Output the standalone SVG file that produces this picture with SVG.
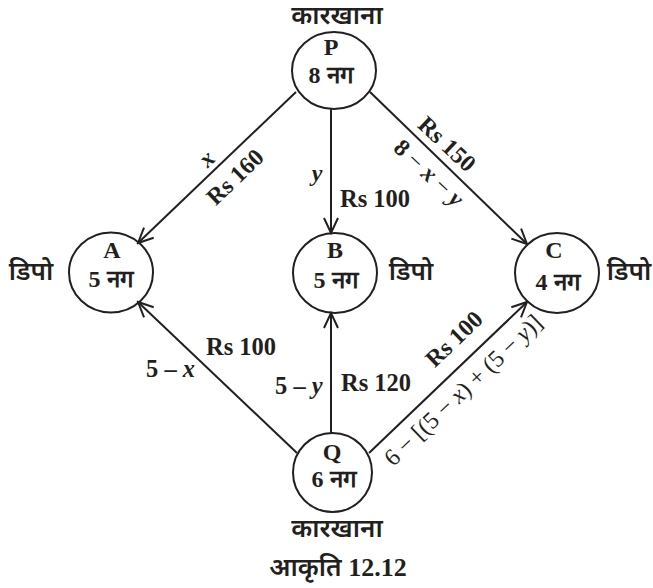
<svg xmlns="http://www.w3.org/2000/svg" width="653" height="588" viewBox="0 0 653 588">
<style>
.n{fill:none;stroke:#231f20;stroke-width:2}
.e{fill:none;stroke:#231f20;stroke-width:2}
.t{font-family:'Liberation Serif',serif;font-weight:bold;font-size:24px;fill:#231f20;text-anchor:middle}
.s{font-family:'Liberation Serif',serif;font-weight:bold;font-size:24.5px;fill:#231f20}
.d{font-family:'Liberation Serif','Noto Sans',serif;font-size:26px;font-weight:600;fill:#231f20;text-anchor:middle}
.i{font-style:italic}
.m{font-weight:normal}
</style>
<defs>
<marker id="ar" markerUnits="userSpaceOnUse" viewBox="-17 -9 19 18" refX="0" refY="0" markerWidth="19" markerHeight="18" orient="auto">
<path d="M-15,-7 L0,0 L-15,7" fill="none" stroke="#231f20" stroke-width="2"/>
</marker>
</defs>
<rect width="653" height="588" fill="#fff"/>
<g id="connectors">
<line class="e" x1="296" y1="92" x2="138" y2="243" marker-end="url(#ar)"/>
<line class="e" x1="331" y1="109" x2="331" y2="233" marker-end="url(#ar)"/>
<line class="e" x1="370" y1="92" x2="527" y2="244" marker-end="url(#ar)"/>
<line class="e" x1="297" y1="453" x2="138" y2="302" marker-end="url(#ar)"/>
<line class="e" x1="331" y1="433" x2="331" y2="313" marker-end="url(#ar)"/>
<line class="e" x1="369" y1="453" x2="527" y2="302" marker-end="url(#ar)"/>
</g>
<g id="P">
<ellipse class="n" cx="334" cy="70.5" rx="42" ry="38.5"/>
<text class="d" x="337" y="24">कारखाना</text>
<text class="t" x="331" y="55">P</text>
<text class="t" x="331" y="83">8 नग</text>
</g>
<g id="A">
<ellipse class="n" cx="111" cy="272.5" rx="42" ry="40"/>
<text class="t" x="112" y="258">A</text>
<text class="t" x="111" y="287">5 नग</text>
<text class="d" x="31" y="280">डिपो</text>
</g>
<g id="B">
<ellipse class="n" cx="335" cy="273" rx="42" ry="40"/>
<text class="t" x="335" y="258">B</text>
<text class="t" x="336" y="288">5 नग</text>
<text class="d" x="411" y="280">डिपो</text>
</g>
<g id="C">
<ellipse class="n" cx="557" cy="273" rx="42" ry="40"/>
<text class="t" x="554" y="258">C</text>
<text class="t" x="558" y="290">4 नग</text>
<text class="d" x="629" y="280">डिपो</text>
</g>
<g id="Q">
<ellipse class="n" cx="332.5" cy="472.5" rx="39.5" ry="39.5"/>
<text class="t" x="332" y="460">Q</text>
<text class="t" x="334" y="487">6 नग</text>
<text class="d" x="337" y="537">कारखाना</text>
</g>
<g id="labels">
<text class="t i" x="208" y="166" transform="rotate(-44 208 160)">x</text>
<text class="t" x="0" y="8" transform="translate(235 177) rotate(-44)">Rs 160</text>
<text class="t i" x="317" y="181">y</text>
<text class="s" x="340" y="207">Rs 100</text>
<text class="t" x="0" y="8" transform="translate(447 144) rotate(43)">Rs 150</text>
<text class="t" x="0" y="8" transform="translate(429 173) rotate(43)">8 <tspan class="m">−</tspan> <tspan class="i">x</tspan> <tspan class="m">−</tspan> <tspan class="i">y</tspan></text>
<text class="s" x="206" y="355">Rs 100</text>
<text class="s" x="146" y="377">5 – <tspan class="i">x</tspan></text>
<text class="s" x="275" y="394">5 – <tspan class="i">y</tspan></text>
<text class="s" x="341" y="391">Rs 120</text>
<text class="t" x="0" y="8" transform="translate(454 339) rotate(-44)">Rs 100</text>
<text class="t m" x="0" y="8" font-size="25" transform="translate(463 390) rotate(-43.5)">6 − [(5 − <tspan class="i">x</tspan>) + (5 − <tspan class="i">y</tspan>)]</text>
<text class="d" x="338" y="576">आकृति <tspan font-weight="bold">12.12</tspan></text>
</g>
</svg>
